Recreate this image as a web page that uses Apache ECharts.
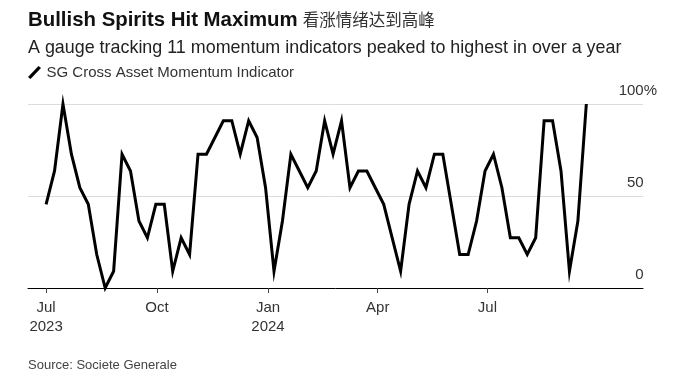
<!DOCTYPE html>
<html>
<head>
<meta charset="utf-8">
<script src="https://cdn.jsdelivr.net/npm/echarts@6/dist/echarts.min.js"></script>
<style>
html,body{margin:0;padding:0;background:#fff;}
#chart{width:692px;height:382px;}
</style>
</head>
<body>
<div id="chart"></div>
<script>
const titleText = 'Bullish Spirits Hit Maximum';
const titleZh = '看涨情绪达到高峰';
const subtitleText = 'A gauge tracking 11 momentum indicators peaked to highest in over a year';
const seriesName = 'SG Cross Asset Momentum Indicator';
const sourceText = 'Source: Societe Generale';

const dates = [
  '2023-07-01','2023-07-08','2023-07-15','2023-07-22','2023-07-29','2023-08-05','2023-08-12','2023-08-19','2023-08-26',
  '2023-09-02','2023-09-09','2023-09-16','2023-09-23','2023-09-30','2023-10-07','2023-10-14','2023-10-21','2023-10-28',
  '2023-11-04','2023-11-11','2023-11-18','2023-11-25','2023-12-02','2023-12-09','2023-12-16','2023-12-23','2023-12-30',
  '2024-01-06','2024-01-13','2024-01-20','2024-01-27','2024-02-03','2024-02-10','2024-02-17','2024-02-24',
  '2024-03-02','2024-03-09','2024-03-16','2024-03-23','2024-03-30','2024-04-06','2024-04-13','2024-04-20','2024-04-27',
  '2024-05-04','2024-05-11','2024-05-18','2024-05-25','2024-06-01','2024-06-08','2024-06-15','2024-06-22','2024-06-29',
  '2024-07-06','2024-07-13','2024-07-20','2024-07-27','2024-08-03','2024-08-10','2024-08-17','2024-08-24','2024-08-31',
  '2024-09-07','2024-09-14','2024-09-21'
];
const momentum = [
  45.5, 63.6, 100, 72.7, 54.5, 45.5, 18.2, 0, 9.1,
  72.7, 63.6, 36.4, 27.3, 45.5, 45.5, 9.1, 27.3, 18.2,
  72.7, 72.7, 81.8, 90.9, 90.9, 72.7, 90.9, 81.8, 54.5,
  9.1, 36.4, 72.7, 63.6, 54.5, 63.6, 90.9, 72.7,
  90.9, 54.5, 63.6, 63.6, 54.5, 45.5, 27.3, 9.1, 45.5,
  63.6, 54.5, 72.7, 72.7, 45.5, 18.2, 18.2, 36.4, 63.6,
  72.7, 54.5, 27.3, 27.3, 18.2, 27.3, 90.9, 90.9, 63.6,
  9.1, 36.4, 100
];
const xTickDates = ['2023-07-01','2023-10-01','2024-01-01','2024-04-01','2024-07-01'];
const xTickLabels = ['Jul\n2023','Oct','Jan\n2024','Apr','Jul'];
const xRange = ['2023-06-16','2024-11-07'];
const yTicks = [0, 50, 100];
const yTickLabels = ['0','50','100%'];

function ts(s){ const p = s.split('-').map(Number); return Date.UTC(p[0], p[1]-1, p[2]); }
const xTickTs = xTickDates.map(ts);
const seriesData = dates.map((d, i) => [ts(d), momentum[i]]);

const FONT = '"Liberation Sans", Arial, sans-serif';
const chart = echarts.init(document.getElementById('chart'), null, {renderer: 'canvas'});
chart.setOption({
  animation: false,
  backgroundColor: '#fff',
  title: [
    {
      text: '{a|' + titleText + '} {b|' + titleZh + '}',
      left: 28, top: 8, padding: 0,
      textStyle: {
        rich: {
          a: {fontFamily: FONT, fontWeight: 'bold', fontSize: 20.4, color: '#111', lineHeight: 24},
          b: {fontFamily: '"Noto Sans CJK SC", sans-serif', fontWeight: 'normal', fontSize: 16.5, color: '#333', lineHeight: 24}
        }
      }
    },
    {
      text: subtitleText, left: 28, top: 37, padding: 0,
      textStyle: {fontFamily: FONT, fontWeight: 'normal', fontSize: 17.9, color: '#222', lineHeight: 22}
    },
    {
      text: sourceText, left: 28, top: 357, padding: 0,
      textStyle: {fontFamily: FONT, fontWeight: 'normal', fontSize: 13, color: '#444', lineHeight: 16}
    }
  ],
  legend: {
    left: 28, top: 65, padding: 0,
    itemWidth: 14, itemHeight: 13, itemGap: 10,
    icon: 'path://M0,11 L10.5,0 L13,2 L2.5,13 Z',
    textStyle: {fontFamily: FONT, fontSize: 15, color: '#333'},
    data: [{name: seriesName, itemStyle: {color: '#000'}}]
  },
  grid: {left: 28, right: 49, top: 104, bottom: 94},
  xAxis: {
    type: 'value',
    min: ts(xRange[0]), max: ts(xRange[1]),
    axisLine: {show: true, onZero: false, lineStyle: {color: '#000', width: 1}},
    axisTick: {show: true, customValues: xTickTs, length: 5, lineStyle: {color: '#444', width: 1}},
    axisLabel: {
      customValues: xTickTs,
      showMinLabel: true, showMaxLabel: true,
      fontFamily: FONT, fontSize: 15, color: '#333', lineHeight: 19, margin: 10,
      formatter: function (v) {
        for (let i = 0; i < xTickTs.length; i++) { if (Math.abs(xTickTs[i] - v) < 3600000) return xTickLabels[i]; }
        return '';
      }
    },
    splitLine: {show: false}
  },
  yAxis: {
    type: 'value', position: 'right',
    min: 0, max: 100, interval: 50,
    axisLine: {show: false}, axisTick: {show: false},
    splitLine: {show: true, lineStyle: {color: '#dcdcdc', width: 1}},
    axisLabel: {
      fontFamily: FONT, fontSize: 15, color: '#333',
      align: 'right', margin: 14, verticalAlign: 'bottom', padding: [0, 0, 6, 0],
      formatter: function (v) {
        const i = yTicks.indexOf(v);
        const lab = i >= 0 ? yTickLabels[i] : String(v);
        if (lab.endsWith('%')) return lab.slice(0, -1) + '{p|%}';
        return lab + '{h|%}';
      },
      rich: {
        p: {fontFamily: FONT, fontSize: 15, color: '#333'},
        h: {fontFamily: FONT, fontSize: 15, color: 'rgba(0,0,0,0)'}
      }
    }
  },
  series: [{
    name: seriesName,
    type: 'line',
    data: seriesData,
    symbol: 'none',
    clip: false,
    lineStyle: {color: '#000', width: 3, join: 'miter'},
    itemStyle: {color: '#000'}
  }]
});
</script>
</body>
</html>
